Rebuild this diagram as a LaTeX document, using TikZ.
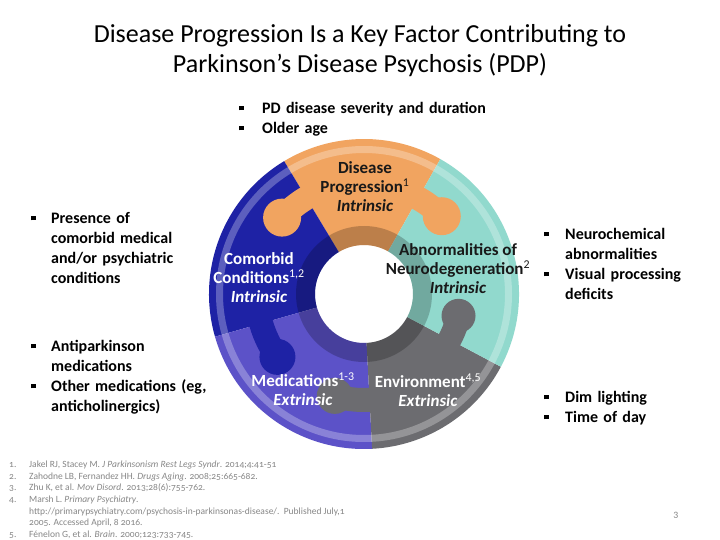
\documentclass[tikz,border=0pt]{standalone}
\usepackage{fontspec}
\setmainfont{Carlito}
\newfontfamily\reffont[Numbers=OldStyle]{Carlito}
\usetikzlibrary{positioning}

\definecolor{progorange}{RGB}{241,164,96}
\definecolor{neuroteal}{RGB}{145,217,205}
\definecolor{envgrey}{RGB}{108,108,112}
\definecolor{medpurple}{RGB}{92,82,200}
\definecolor{comblue}{RGB}{30,34,165}
\definecolor{labeldark}{RGB}{25,25,25}
\definecolor{reftext}{RGB}{135,135,135}

\newcommand{\sqbullet}{\raisebox{3pt}{\rule{4.8pt}{4.8pt}}}
\newcommand{\bitem}[2][19pt]{\hangindent=#1\hangafter=1\noindent\makebox[#1][l]{\sqbullet}#2\par}
% knob: colour, start angle, knob angle, knob radius position, knob size
\newcommand{\knob}[5]{%
  \fill[#1] ({#2}:{#4-12}) arc[start angle=#2, end angle=#3, radius=#4-12]
    -- ({#3}:{#4+12}) arc[start angle=#3, end angle=#2, radius=#4+12] -- cycle;
  \fill[#1] ({#3}:{#4}) circle[radius=#5];}

\begin{document}
\begin{tikzpicture}[x=1pt, y=-1pt,
    ringlabel/.style={font=\fontsize{17}{19}\selectfont\bfseries, align=center, inner sep=0pt},
    bullets/.style={font=\fontsize{16}{20}\selectfont\bfseries, align=left, anchor=north west, inner sep=0pt, text width=#1},
    refs/.style={font=\reffont\fontsize{9.5}{11.7}\selectfont, text=reftext, anchor=north west, inner sep=0pt}]

    \useasboundingbox[fill=white] (0,0) rectangle (720,540);

    % Centre of the ring
    \coordinate (C) at (364,294);

    % Puzzle ring
    \begin{scope}[shift={(C)}, y=1pt]
        \foreach \col/\a/\b in {progorange/60.5/121, comblue/121/196, medpurple/196/273,
                                envgrey/273/332, neuroteal/-28/60.5}
            \fill[\col] (\a:49) arc[start angle=\a, end angle=\b, radius=49]
                -- (\b:155) arc[start angle=\b, end angle=\a, radius=155] -- cycle;

        % Knobs
        \knob{progorange}{116}{137}{112}{19}
        \knob{progorange}{65}{45}{110}{19}
        \knob{envgrey}{-33}{-13}{97}{17}
        \knob{envgrey}{278}{254}{106}{18}
        \knob{comblue}{191}{216}{107}{18}

        % Shading bands
        \fill[black, opacity=0.22, even odd rule] (0,0) circle[radius=68] (0,0) circle[radius=49];
        \fill[white, opacity=0.28, even odd rule] (0,0) circle[radius=148] (0,0) circle[radius=141];
    \end{scope}

    % Title
    \node[font=\fontsize{26}{30}\selectfont, align=center] (title) at (360,51)
        {Disease Progression Is a Key Factor Contributing to\\Parkinson’s Disease Psychosis (PDP)};

    % Ring labels
    \node[ringlabel, text=labeldark] (progression) at (365,187)
        {Disease\\Progression\textsuperscript{\mdseries 1}\\\textit{Intrinsic}};
    \node[ringlabel, text=white] (comorbid) at (259,278)
        {Comorbid\\Conditions\textsuperscript{\mdseries 1,2}\\\textit{Intrinsic}};
    \node[ringlabel, text=labeldark] (neuro) at (458,269)
        {Abnormalities of\\Neurodegeneration\textsuperscript{\mdseries 2}\\\textit{Intrinsic}};
    \node[ringlabel, text=white] (medications) at (303,389)
        {Medications\textsuperscript{\mdseries 1-3}\\\textit{Extrinsic}};
    \node[ringlabel, text=white] (environment) at (428,390)
        {Environment\textsuperscript{\mdseries 4,5}\\\textit{Extrinsic}};

    % Bullet lists
    \node[bullets=300pt] (topfactors) at (239,102)
        {\bitem[23pt]{PD disease severity and duration}\bitem[23pt]{Older age}};
    \node[bullets=200pt] (comorbidfactors) at (31,212)
        {\bitem[20pt]{Presence of\newline comorbid medical\newline and/or psychiatric\newline conditions}};
    \node[bullets=200pt] (medfactors) at (31,340)
        {\bitem[20pt]{Antiparkinson\newline medications}\bitem[20pt]{Other medications (eg,\newline anticholinergics)}};
    \node[bullets=170pt] (neurofactors) at (544,228)
        {\bitem[21pt]{Neurochemical\newline abnormalities}\bitem[21pt]{Visual processing\newline deficits}};
    \node[bullets=170pt] (envfactors) at (544,391)
        {\bitem[21pt]{Dim lighting}\bitem[21pt]{Time of day}};

    % References
    \node[refs] (references) at (9,459) {%
        \begin{tabular}{@{}p{20pt}@{}l@{}}
        1. & Jakel RJ, Stacey M. \textit{J Parkinsonism Rest Legs Syndr}. 2014;4:41-51\\
        2. & Zahodne LB, Fernandez HH. \textit{Drugs Aging}. 2008;25:665-682.\\
        3. & Zhu K, et al. \textit{Mov Disord}. 2013;28(6):755-762.\\
        4. & Marsh L. \textit{Primary Psychiatry}.\\
           & http://primarypsychiatry.com/psychosis-in-parkinsonas-disease/.\ \ Published July,1\\
           & 2005. Accessed April, 8 2016.\\
        5. & Fénelon G, et al. \textit{Brain}. 2000;123:733-745.
        \end{tabular}};

    % Page number
    \node[font=\reffont\fontsize{10}{12}\selectfont, text=reftext] (pagenum) at (676,515) {3};
\end{tikzpicture}
\end{document}
